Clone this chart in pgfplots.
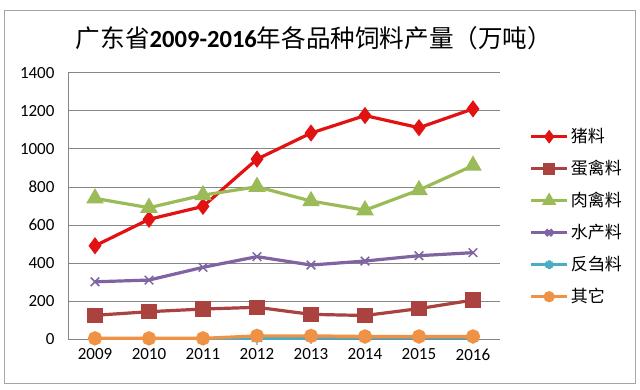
\documentclass[border=0pt]{standalone}
\usepackage{pgfplots}
\pgfplotsset{compat=1.18}
\usepackage{fontspec}
\setmainfont{Carlito}
\newfontfamily\cjk{Noto Sans CJK SC}
\definecolor{cpig}{RGB}{226,18,18}
\definecolor{cegg}{RGB}{170,66,64}
\definecolor{cmeat}{RGB}{155,187,89}
\definecolor{caqua}{RGB}{128,100,162}
\definecolor{crum}{RGB}{75,172,198}
\definecolor{coth}{RGB}{240,146,70}
\definecolor{cgrid}{RGB}{134,134,134}
\begin{document}
\begin{tikzpicture}[x=1pt,y=1pt]
\fill[white] (0,0) rectangle (640,389);
\draw[gray!70,line width=0.8pt] (4,379) rectangle (635,6);
\node[font=\cjk\fontsize{24.6}{28}\selectfont] at (314,351) {广东省{\normalfont\bfseries 2009-2016}年各品种饲料产量（万吨）};
\begin{axis}[
  at={(68pt,49.7pt)}, anchor=south west,
  scale only axis, width=432pt, height=266.6pt,
  xmin=2008.5, xmax=2016.5, ymin=0, ymax=1400,
  xtick={2009,...,2016}, ytick={0,200,...,1400},
  /pgf/number format/set thousands separator={},
  /pgf/number format/assume math mode=true,
  ticklabel style={font=\fontsize{17}{17}\selectfont},
  xticklabel style={yshift=-6pt},
  yticklabel style={xshift=-10pt},
  axis x line*=bottom, axis y line*=left,
  axis line style={cgrid, line width=0.8pt, -},
  major tick length=0pt,
  ymajorgrids, grid style={cgrid, line width=0.8pt},
  legend style={at={(1.061,0.80)}, anchor=north west, draw=none, fill=none,
    font=\cjk\fontsize{17}{17}\selectfont, row sep=15pt,
    nodes={inner xsep=2pt, inner ysep=0pt, text height=14pt, text depth=3pt}},
  legend cell align=left,
  legend image code/.code={\draw[mark repeat=2,mark phase=2,#1,mark options={scale=0.72}] plot coordinates {(0pt,0pt) (18pt,0pt) (36pt,0pt)};},
  every axis plot/.append style={line width=3.2pt, mark options={solid}},
]
\addplot[cpig, mark=diamond*, mark size=6pt] coordinates {
(2009,491) (2010,630) (2011,698) (2012,946) (2013,1083) (2014,1175) (2015,1111) (2016,1210)};
\addlegendentry{猪料}
\addplot[cegg, mark=square*, mark size=6pt] coordinates {
(2009,126) (2010,145) (2011,159) (2012,168) (2013,131) (2014,125) (2015,161) (2016,206)};
\addlegendentry{蛋禽料}
\addplot[cmeat, mark=triangle*, mark size=7pt] coordinates {
(2009,740) (2010,691) (2011,757) (2012,801) (2013,726) (2014,678) (2015,784) (2016,912)};
\addlegendentry{肉禽料}
\addplot[caqua, mark=x, mark size=6pt, mark options={line width=1.5pt}] coordinates {
(2009,302) (2010,311) (2011,378) (2012,434) (2013,390) (2014,411) (2015,439) (2016,455)};
\addlegendentry{水产料}
\addplot[crum, mark=asterisk, mark size=6pt, mark options={line width=1.2pt}] coordinates {
(2009,1) (2010,1) (2011,1) (2012,2) (2013,7) (2014,9) (2015,9) (2016,9)};
\addlegendentry{反刍料}
\addplot[coth, mark=*, mark size=5.5pt] coordinates {
(2009,5) (2010,5) (2011,5) (2012,18) (2013,18) (2014,15) (2015,15) (2016,15)};
\addlegendentry{其它}
\end{axis}
\end{tikzpicture}
\end{document}
